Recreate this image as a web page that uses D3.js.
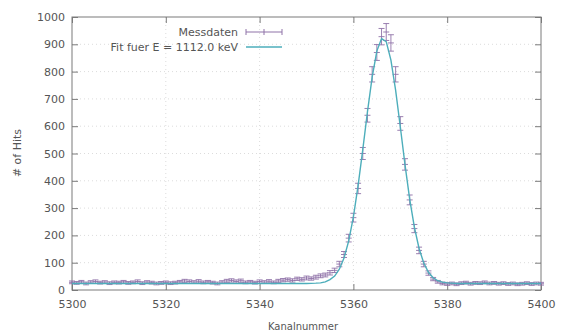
<!DOCTYPE html>
<html>
<head>
<meta charset="utf-8">
<script src="https://cdn.jsdelivr.net/npm/d3@7"></script>
<style>
  body { margin: 0; background: #fff; }
  text { font-family: "DejaVu Sans", sans-serif; fill: #555; }
</style>
</head>
<body>
<script>
// channels 5300..5400, counts
const channels = d3.range(5300, 5401);
const counts = [
  28, 26, 30, 24, 29, 31, 27, 29, 25, 28,
  27, 30, 26, 28, 31, 25, 29, 27, 24, 26,
  28, 25, 27, 30, 33, 31, 29, 32, 28, 30,
  27, 24, 29, 33, 35, 31, 34, 28, 30, 27,
  31, 29, 32, 28, 33, 36, 38, 35, 41, 39,
  44, 42, 47, 52, 55, 63, 72, 95, 130, 190,
  265, 372, 500, 640, 790, 870, 928, 945, 905, 790,
  610, 460, 330, 225, 145, 95, 62, 40, 30, 24,
  22, 24, 21, 25, 27, 23, 26, 25, 28, 24,
  26, 23, 25, 22, 24, 21, 23, 25, 22, 24, 23
];
const errors = [
  5, 5, 5, 5, 5, 6, 5, 5, 5, 5,
  5, 5, 5, 5, 6, 5, 5, 5, 5, 5,
  5, 5, 5, 5, 6, 6, 5, 6, 5, 5,
  5, 5, 5, 6, 6, 6, 6, 5, 5, 5,
  6, 5, 6, 5, 6, 6, 6, 6, 6, 6,
  7, 6, 7, 7, 7, 8, 8, 10, 11, 14,
  16, 19, 22, 25, 28, 29, 30, 31, 30, 28,
  25, 21, 18, 15, 12, 10, 8, 6, 5, 5,
  5, 5, 5, 5, 5, 5, 5, 5, 5, 5,
  5, 5, 5, 5, 5, 5, 5, 5, 5, 5, 5
];

// fit curve samples (Gauss + background)
const fitChannels = [5300, 5350, 5352, 5353, 5354, 5355, 5356, 5357, 5358, 5359,
  5360, 5361, 5362, 5363, 5364, 5365, 5366, 5367, 5368, 5369,
  5370, 5371, 5372, 5373, 5374, 5375, 5376, 5377, 5378, 5379,
  5380, 5381, 5382, 5400];
const fitValues = [24, 24, 25, 26, 30, 38, 51, 76, 117, 180,
  268, 382, 514, 653, 780, 875, 921, 910, 842, 732,
  598, 459, 333, 230, 152, 99, 65, 45, 34, 29,
  26, 25, 24, 24];

const xTicks = [5300, 5320, 5340, 5360, 5380, 5400];
const yTicks = [0, 100, 200, 300, 400, 500, 600, 700, 800, 900, 1000];

const W = 565, H = 336;
const mLeft = 72, mRight = 541, mTop = 17, mBottom = 290;
const dataColor = "#8f72a8", fitColor = "#4daebb", frameColor = "#7a7a7a";

const svg = d3.select("body").append("svg")
  .attr("width", W).attr("height", H)
  .style("background", "#fff");

const x = d3.scaleLinear().domain([5300, 5400]).range([mLeft, mRight]);
const y = d3.scaleLinear().domain([0, 1000]).range([mBottom, mTop]);

// dotted grid
svg.append("g").selectAll("line").data(yTicks.slice(1, -1)).join("line")
  .attr("x1", mLeft).attr("x2", mRight)
  .attr("y1", d => y(d)).attr("y2", d => y(d))
  .attr("stroke", "#dcdcdc").attr("stroke-dasharray", "1,3");
svg.append("g").selectAll("line").data(xTicks.slice(1, -1)).join("line")
  .attr("y1", mTop).attr("y2", mBottom)
  .attr("x1", d => x(d)).attr("x2", d => x(d))
  .attr("stroke", "#dcdcdc").attr("stroke-dasharray", "1,3");

// axes, ticks pointing inward like gnuplot
const fmt = d3.format("d");
const axB = svg.append("g").attr("transform", `translate(0,${mBottom})`)
  .call(d3.axisBottom(x).tickValues(xTicks).tickFormat(fmt).tickSize(-6).tickPadding(10));
const axL = svg.append("g").attr("transform", `translate(${mLeft},0)`)
  .call(d3.axisLeft(y).tickValues(yTicks).tickFormat(fmt).tickSize(-6).tickPadding(7));
const axT = svg.append("g").attr("transform", `translate(0,${mTop})`)
  .call(d3.axisTop(x).tickValues(xTicks).tickSize(-6).tickFormat(""));
const axR = svg.append("g").attr("transform", `translate(${mRight},0)`)
  .call(d3.axisRight(y).tickValues(yTicks).tickSize(-6).tickFormat(""));
[axB, axL, axT, axR].forEach(g => {
  g.select(".domain").remove();
  g.selectAll("line").attr("stroke", frameColor);
  g.selectAll("text").attr("font-size", 11).attr("fill", "#555")
    .style("font-family", "DejaVu Sans, sans-serif");
});

svg.append("rect")
  .attr("x", mLeft).attr("y", mTop)
  .attr("width", mRight - mLeft).attr("height", mBottom - mTop)
  .attr("fill", "none").attr("stroke", frameColor);

// measured data with error bars
const pts = channels.map((c, i) => ({ c, v: counts[i], e: errors[i] }));
const gData = svg.append("g").attr("stroke", dataColor).attr("stroke-width", 0.9);
const cap = 3;
gData.selectAll("path").data(pts).join("path")
  .attr("fill", "none")
  .attr("d", d => {
    const px = x(d.c), y0 = y(d.v - d.e), y1 = y(d.v + d.e), py = y(d.v);
    return `M${px},${y0}V${y1}` +
      `M${px - cap},${y0}H${px + cap}M${px - cap},${y1}H${px + cap}` +
      `M${px - 3},${py}H${px + 3}`;
  });

// fit curve
const line = d3.line().x(d => x(d[0])).y(d => y(d[1]));
svg.append("path")
  .datum(fitChannels.map((c, i) => [c, fitValues[i]]))
  .attr("d", line)
  .attr("fill", "none").attr("stroke", fitColor).attr("stroke-width", 1.4);

// key
const keyTextX = 238, keyL = 246, keyR = 282;
const key = svg.append("g");
key.append("text").attr("x", keyTextX).attr("y", 36).attr("text-anchor", "end")
  .attr("font-size", 11).text("Messdaten");
key.append("path").attr("stroke", dataColor).attr("fill", "none")
  .attr("d", `M${keyL},32H${keyR}M${keyL},29V35M${keyR},29V35M${(keyL + keyR) / 2},29V35`);
key.append("text").attr("x", keyTextX).attr("y", 51).attr("text-anchor", "end")
  .attr("font-size", 11).text("Fit fuer E = 1112.0 keV");
key.append("line").attr("x1", keyL).attr("x2", keyR).attr("y1", 47).attr("y2", 47)
  .attr("stroke", fitColor).attr("stroke-width", 1.4);

// axis titles
svg.append("text").attr("x", 303).attr("y", 330)
  .attr("text-anchor", "middle").attr("font-size", 10).text("Kanalnummer");
svg.append("text")
  .attr("transform", "translate(21,153) rotate(-90)")
  .attr("text-anchor", "middle").attr("font-size", 11).text("# of Hits");
</script>
</body>
</html>
